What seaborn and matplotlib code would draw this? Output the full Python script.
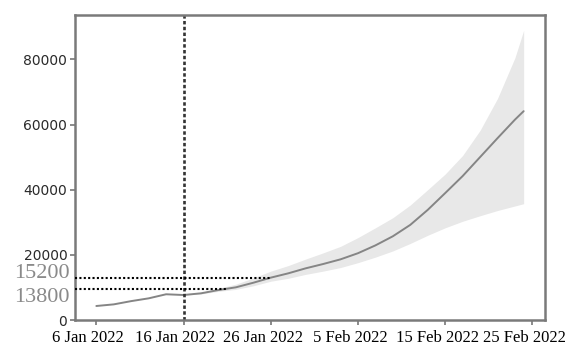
import matplotlib
matplotlib.use("Agg")
import matplotlib.pyplot as plt
import matplotlib.dates as mdates
import matplotlib.transforms as mtransforms
import numpy as np
import pandas as pd
import seaborn as sns

# Forecast series: observed up to 16 Jan, projected afterwards with an interval
dates = ["2022-01-06", "2022-01-08", "2022-01-10", "2022-01-12", "2022-01-14",
         "2022-01-16", "2022-01-18", "2022-01-20", "2022-01-22", "2022-01-24",
         "2022-01-26", "2022-01-28", "2022-01-30", "2022-02-01", "2022-02-03",
         "2022-02-05", "2022-02-07", "2022-02-09", "2022-02-11", "2022-02-13",
         "2022-02-15", "2022-02-17", "2022-02-19", "2022-02-21", "2022-02-23",
         "2022-02-24"]
median = [4300, 4800, 5800, 6650, 7900,
          7670, 8190, 9200, 10030, 11440,
          13000, 14320, 15860, 17180, 18620,
          20500, 22900, 25700, 29200, 33800,
          38950, 44170, 49990, 55800, 61490,
          64100]
upper = [4300, 4800, 5800, 6650, 7900,
         7670, 8400, 9700, 11000, 12900,
         15000, 16700, 18700, 20600, 22600,
         25300, 28300, 31400, 35300, 40000,
         44800, 50500, 58200, 68000, 80500,
         88900]
lower = [4300, 4800, 5800, 6650, 7900,
         7670, 8000, 8800, 9400, 10500,
         11900, 12800, 14000, 15000, 16100,
         17600, 19300, 21200, 23500, 26000,
         28300, 30300, 32000, 33600, 35000,
         35700]

split_date = "2022-01-16"
tick_dates = ["2022-01-06", "2022-01-16", "2022-01-26",
              "2022-02-05", "2022-02-15", "2022-02-25"]
y_ticks = [0, 20000, 40000, 60000, 80000]

# Reference levels
ref_values = [15200, 13800]
ref_dates = ["2022-01-26", "2022-01-21"]

df = pd.DataFrame({"date": pd.to_datetime(dates), "median": median,
                   "upper": upper, "lower": lower})

sns.set_theme(style="white")
plt.rcParams["font.family"] = ["DejaVu Sans"]

fig = plt.figure(figsize=(5.71, 3.5), dpi=100)
ax = fig.add_axes([0.1313, 0.0857, 0.8232, 0.8713])

ax.fill_between(df["date"], df["lower"], df["upper"], color="#e4e4e4",
                alpha=0.85, linewidth=0)
sns.lineplot(data=df, x="date", y="median", ax=ax, color="#858585",
             linewidth=1.4)

ax.set_ylim(0, 93600)
ax.set_xlim(ax.get_xlim())

ax.axvline(pd.Timestamp(split_date), color="#333333", linewidth=1.9,
           linestyle=(0, (1.3, 0.9)))

ax.set_xticks(pd.to_datetime(tick_dates))
ax.xaxis.set_major_formatter(mdates.DateFormatter("%-d %b %Y"))
ax.set_yticks(y_ticks)
ax.set_xlabel("")
ax.set_ylabel("")

ax.tick_params(axis="y", which="major", length=3.5, width=1.2,
               color="#777777", left=True, pad=2)
ax.tick_params(axis="x", which="major", length=3.5, width=1.2,
               color="#777777", bottom=True, pad=4)
for s in ax.spines.values():
    s.set_color("#7a7a7a")
    s.set_linewidth(1.8)

# Date labels sit slightly left of their ticks
shift = mtransforms.ScaledTranslation(-8 / 100, 0, fig.dpi_scale_trans)
for lab in ax.get_xticklabels():
    lab.set_fontfamily(["Liberation Serif"])
    lab.set_fontsize(12)
    lab.set_color("black")
    lab.set_transform(lab.get_transform() + shift)
for lab in ax.get_yticklabels():
    lab.set_fontsize(10)
    lab.set_color("#2a2a2a")

# Annotation layer with its own value scale for the reference levels
ax2 = ax.twinx()
ax2.set_ylim(9959, 47746)
ax2.set_yticks([])
for s in ax2.spines.values():
    s.set_visible(False)
x0 = ax.get_xlim()[0]
offsets = [(-4, 3), (-4, -6)]
for val, d, off in zip(ref_values, ref_dates, offsets):
    ax2.hlines(val, x0, mdates.date2num(pd.Timestamp(d)), color="black",
               linewidth=1.5, linestyles=[(0, (1, 1.1))])
    ax2.annotate(str(val), xy=(0, val), xycoords=("axes fraction", "data"),
                 xytext=off, textcoords="offset points", ha="right",
                 va="center", fontsize=16, color="#8a8a8a",
                 family=["Liberation Serif"], annotation_clip=False)

fig.savefig("out.png", dpi=100)
